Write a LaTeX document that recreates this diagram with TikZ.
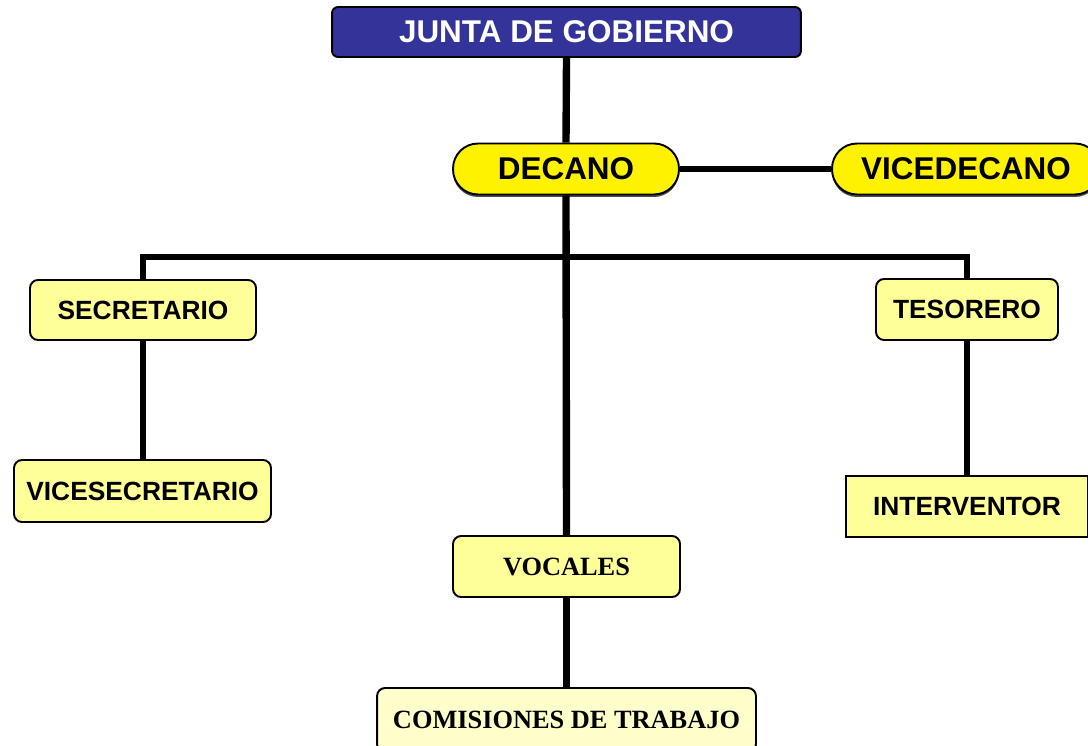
\documentclass[tikz,border=0pt]{standalone}
\usepackage{fontspec}
\setmainfont{Liberation Sans}
\newfontfamily\timesfont{Liberation Serif}
\usetikzlibrary{shadows}
\definecolor{juntablue}{HTML}{333399}
\definecolor{paleyellow}{HTML}{FFFF99}
\definecolor{creamyellow}{HTML}{FFFFCC}
\tikzset{
	cargo/.style={draw=black, line width=1.1pt, fill=paleyellow, rounded corners=0.16cm, font=\fontsize{15}{17}\selectfont\bfseries, inner sep=0pt},
	mando/.style={draw=black, line width=1.1pt, fill=yellow, rounded corners=0.5cm, font=\fontsize{17.9}{20}\selectfont\bfseries, inner sep=0pt, drop shadow={shadow xshift=0cm, shadow yshift=-0.05cm, fill=black!70, opacity=1}},
	enlace/.style={line width=3.8pt, line join=miter},
}

\begin{document}
\begin{tikzpicture}[x=0.02cm, y=-0.02cm]
		%%%%% START %%%%%
		\useasboundingbox (0, 0) rectangle (1088, 746);
		
		\node[draw=black, line width=1.1pt, fill=juntablue, text=white, rounded corners=0.12cm, font=\fontsize{17.9}{20}\selectfont\bfseries, minimum width=9.38cm, minimum height=1cm, inner sep=0pt] (junta) at (566.5, 32) {JUNTA DE GOBIERNO};
		
		\node[mando, minimum width=4.52cm, minimum height=1.02cm] (decano) at (566, 169) {DECANO};
		\node[mando, minimum width=5.36cm, minimum height=1.02cm] (vicedecano) at (966, 169) {VICEDECANO};
		
		\node[cargo, minimum width=4.52cm, minimum height=1.2cm] (secretario) at (143, 310) {SECRETARIO};
		\node[cargo, minimum width=5.14cm, minimum height=1.24cm] (vicesecretario) at (142.5, 491) {VICESECRETARIO};
		
		\node[cargo, minimum width=3.64cm, minimum height=1.22cm] (tesorero) at (967, 309.5) {TESORERO};
		\node[cargo, rounded corners=0pt, minimum width=4.84cm, minimum height=1.22cm] (interventor) at (967, 506.5) {INTERVENTOR};
		
		\node[cargo, font=\fontsize{15}{17}\timesfont\bfseries, minimum width=4.54cm, minimum height=1.22cm] (vocales) at (566.5, 566.5) {VOCALES};
		\node[cargo, fill=creamyellow, font=\fontsize{15}{17}\timesfont\bfseries, minimum width=7.58cm, minimum height=1.28cm] (comisiones) at (566.5, 720) {COMISIONES DE TRABAJO};
		
		\coordinate (barra) at (566.5, 257);
		
		\draw[line width=4.2pt] (junta.south) -- (decano.north);
		\draw[line width=4.2pt] (decano.south) -- (vocales.north);
		\draw[line width=3pt] (decano.east) -- (vicedecano.west);
		\draw[enlace] (secretario.north) -- (secretario.north |- barra) -- (tesorero.north |- barra) -- (tesorero.north);
		\draw[enlace] (secretario.south) -- (secretario.south |- vicesecretario.north);
		\draw[enlace] (tesorero.south) -- (interventor.north);
		\draw[line width=4.2pt] (vocales.south) -- (comisiones.north);
		%%%%% END %%%%%
	\end{tikzpicture}
\end{document}
